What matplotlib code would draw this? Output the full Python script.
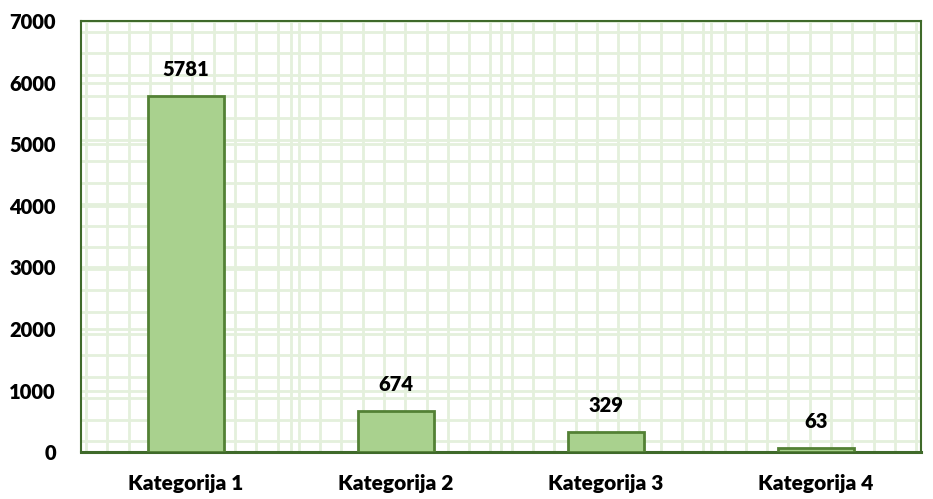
import numpy as np
import matplotlib.pyplot as plt
from matplotlib.ticker import FixedLocator, MultipleLocator

categories = ["Kategorija 1", "Kategorija 2", "Kategorija 3", "Kategorija 4"]
values = [5781, 674, 329, 63]

plt.rcParams["font.family"] = ["Lato", "DejaVu Sans"]
plt.rcParams["font.weight"] = "heavy"

fig = plt.figure(figsize=(9.33, 4.99), dpi=100)
ax = fig.add_axes([0.0868, 0.094, 0.9, 0.864])

x = np.arange(len(categories))
ax.bar(x, values, width=0.36, color="#A9D18E", edgecolor="#538135", linewidth=2, zorder=3)

for xi, v in zip(x, values):
    ax.annotate(str(v), (xi, v), xytext=(0, 19), textcoords="offset points",
                ha="center", va="center", fontsize=14.5, fontweight="heavy")

ax.set_xlim(-0.5, len(categories) - 0.5)
ax.set_ylim(0, 7000)
ax.set_xticks(x)
ax.set_xticklabels(categories)
ax.yaxis.set_major_locator(MultipleLocator(1000))

# grid texture
ax.yaxis.set_minor_locator(FixedLocator(np.arange(175, 7000, 350)))
ax.xaxis.set_minor_locator(FixedLocator(np.arange(-0.476, 3.5, 0.1014)))
ax.grid(which="minor", color="#E4F0DC", linewidth=2.0, zorder=0)
ax.grid(which="major", axis="y", color="#E4F0DC", linewidth=2.0, zorder=0)
for b in np.arange(0.5, 3.5, 1):
    ax.axvline(b, color="#E4F0DC", linewidth=2.0, zorder=0)
ax.set_axisbelow(True)

ax.tick_params(which="both", length=0)
ax.tick_params(axis="y", pad=18, labelsize=14.5)
ax.tick_params(axis="x", pad=16, labelsize=15)
for s in ax.spines.values():
    s.set_color("#3F6A2A")
    s.set_linewidth(1.5)
ax.spines["bottom"].set_linewidth(2.2)

fig.savefig("out.png", dpi=100)
